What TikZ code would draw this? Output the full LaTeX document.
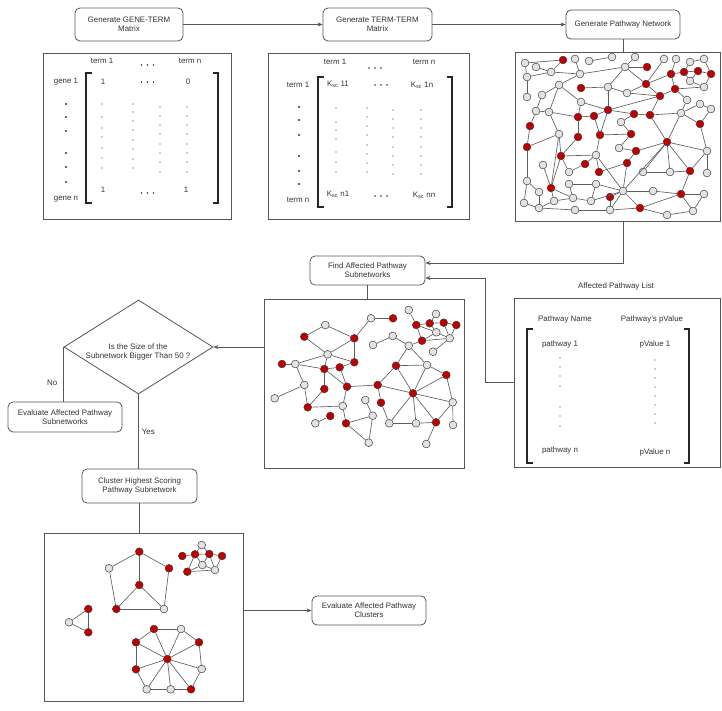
\documentclass[tikz,border=0pt]{standalone}
\usepackage{fontspec}
\setmainfont{Liberation Sans}
\usetikzlibrary{arrows.meta,shapes.geometric}
\definecolor{linec}{HTML}{555555}
\definecolor{textc}{HTML}{333333}
\definecolor{redn}{HTML}{C00000}
\definecolor{greyn}{HTML}{E2E2E2}
\definecolor{edgec}{HTML}{5E5E5E}
\begin{document}
\begin{tikzpicture}[x=1pt,y=-1pt,
  txt/.style={font=\fontsize{7.9}{9.3}\selectfont, text=textc, inner sep=0pt, align=center},
  rbox/.style={draw=linec, line width=0.8pt, rounded corners=5pt, inner sep=0pt, fill=white},
  panel/.style={draw=linec, line width=0.8pt, inner sep=0pt},
  conn/.style={draw=linec, line width=0.8pt},
  arr/.style={conn, -{Stealth[length=5pt,width=4pt]}},
  brk/.style={draw=black!85, line width=1.4pt},
  ndr/.style={circle, draw=black!75, line width=0.5pt, fill=redn, minimum size=7.8pt, inner sep=0pt},
  ndg/.style={circle, draw=black!75, line width=0.5pt, fill=greyn, minimum size=7.8pt, inner sep=0pt},
  edge/.style={draw=edgec, line width=0.65pt},
  dotc/.style={fill=textc}]
\useasboundingbox (0,0) rectangle (722,711);

% ---------- top process boxes ----------
\node[rbox, minimum width=108pt, minimum height=33pt] (gt) at (129,24.5) {};
\node[txt] (gtt) at (129,24.5) {Generate GENE-TERM\\Matrix};
\node[rbox, minimum width=109pt, minimum height=33pt] (tt) at (377.5,24.5) {};
\node[txt] (ttt) at (377.5,24.5) {Generate TERM-TERM\\Matrix};
\node[rbox, minimum width=114pt, minimum height=29pt] (pn) at (623,24.5) {};
\node[txt] (pnt) at (623,24.5) {Generate Pathway Network};

\draw[arr] (gt.east) -- (tt.west);
\draw[arr] (tt.east) -- (pn.west);

% ---------- panels ----------
\node[panel, minimum width=188pt, minimum height=166pt] (m1) at (137,136) {};
\node[panel, minimum width=201pt, minimum height=166pt] (m2) at (368.5,136) {};
\node[panel, minimum width=205.5pt, minimum height=169pt] (net) at (617.75,136.5) {};
\node[panel, minimum width=200pt, minimum height=169pt] (sub) at (364,383.5) {};
\node[panel, minimum width=206.5pt, minimum height=169pt] (list) at (617.25,382.5) {};
\node[panel, minimum width=199pt, minimum height=168pt] (clus) at (143.5,617) {};

% ---------- matrix 1 ----------
\node[txt] (m1c1) at (102,61) {term 1};
\node[txt] (m1cn) at (190,61) {term n};
\node[txt] (m1r1) at (66,82) {gene 1};
\node[txt] (m1rn) at (66,199) {gene n};
\node[txt] (m1a) at (103,82) {1};
\node[txt] (m1b) at (188,82) {0};
\node[txt] (m1c) at (103,190) {1};
\node[txt] (m1d) at (186,190) {1};
\foreach \x in {141.5,147.5,153.5} {
  \fill[dotc] (\x,65) circle (0.9pt);
  \fill[dotc] (\x,82) circle (0.9pt);
  \fill[dotc] (\x,193) circle (0.9pt);
}
\foreach \y in {104,117,131,153,167,182} \fill[dotc] (66,\y) circle (1.05pt);
\foreach \y in {104,117,128,137,148,158,168} \fill[dotc] (102,\y) circle (0.6pt);
\foreach \y in {104,112,121,130,140,149,159,168} \fill[dotc] (133,\y) circle (0.6pt);
\foreach \y in {107,116,125,134,144,153,162,172} {
  \fill[dotc] (160,\y) circle (0.6pt);
  \fill[dotc] (187,\y) circle (0.6pt);
}
\draw[brk] (91.5,73) -- (86,73) -- (86,203) -- (91.5,203);
\draw[brk] (212.5,73) -- (218,73) -- (218,203) -- (212.5,203);

% ---------- matrix 2 ----------
\node[txt] (m2c1) at (335,62) {term 1};
\node[txt] (m2cn) at (424,62) {term n};
\node[txt] (m2r1) at (298,85) {term 1};
\node[txt] (m2rn) at (298,200) {term n};
\node[txt] (m2a) at (338,84) {K\textsubscript{sc} 11};
\node[txt] (m2b) at (422,85) {K\textsubscript{sc} 1n};
\node[txt] (m2c) at (338,194) {K\textsubscript{sc} n1};
\node[txt] (m2d) at (424,195) {K\textsubscript{sc} nn};
\foreach \x in {369,375,381} \fill[dotc] (\x,68) circle (0.9pt);
\foreach \x in {375,381,387} {
  \fill[dotc] (\x,85) circle (0.9pt);
  \fill[dotc] (\x,196) circle (0.9pt);
}
\foreach \y in {107,120,135,156,171,184} \fill[dotc] (299,\y) circle (1.05pt);
\foreach \y in {108,122,130,139,152,162,172} \fill[dotc] (336,\y) circle (0.6pt);
\foreach \y in {108,117,126,135,145,154,163,172} \fill[dotc] (367,\y) circle (0.6pt);
\foreach \y in {110,119,128,137,147,156,165,174} {
  \fill[dotc] (393,\y) circle (0.6pt);
  \fill[dotc] (421,\y) circle (0.6pt);
}
\draw[brk] (323.5,77) -- (318,77) -- (318,207) -- (323.5,207);
\draw[brk] (446.5,77) -- (452,77) -- (452,207) -- (446.5,207);

% ---------- pathway network ----------
\foreach \n/\x/\y/\c in {
 a1/525/63/g, a2/536/67/g, a3/551/72/g, a4/563/60/r, a5/575/59/g, a6/589/61/g,
 a7/612/57/g, a8/635/57/g, a9/625/67/g, a10/647/67/r, a11/664/59/g, a12/676/59/g,
 a13/690/62/g, a14/704/59/g, a15/671/74/r, a16/684/72/r, a17/698/71/r, a18/711/74/r,
 b1/527/77/g, b2/580/74/g, b3/690/81/g, b4/704/87/g, b5/675/89/r, b6/646/84/r,
 b7/559/85/g, b8/581/88/r, b9/608/87/g, b10/627/93/g, b11/660/96/r, b12/527/97/g,
 b13/542/95/g, b14/581/102/g, b15/687/100/g, b16/700/104/g, b17/711/109/g,
 c1/536/111/g, c2/549/112/g, c3/608/110/r, c4/578/117/r, c5/594/116/r, c6/634/114/r,
 c7/650/115/r, c8/681/113/g, c9/621/122/g, c10/530/126/r, c11/700/124/r,
 d1/559/134/g, d2/578/137/r, d3/600/135/r, d4/631/134/r, d5/667/142/r, d6/527/147/r,
 d7/619/148/g, d8/636/151/r, d9/707/151/g, d10/561/156/r, d11/596/155/g, d12/585/164/r,
 d13/627/163/r, d14/543/165/g,
 e1/569/172/g, e2/599/172/r, e3/643/172/g, e4/670/172/g, e5/690/171/r, e6/707/173/g,
 e7/527/181/g, e8/569/184/g, e9/596/184/g, e10/551/188/r, e11/539/192/g, e12/623/191/g,
 e13/653/191/g, e14/681/194/r, e15/704/194/g, e16/610/197/r,
 f1/524/203/g, f2/554/201/g, f3/573/198/g, f4/591/201/g, f5/539/208/g, f6/575/210/g,
 f7/610/210/g, f8/640/208/r, f9/667/215/g, f10/693/211/g}
 \node[nd\c] (\n) at (\x,\y) {};
\foreach \u/\v in {
 a1/a4, a2/a3, a3/a4, a1/b1, b1/a3, a3/b2, a5/b2, a6/a7, b2/a9, a8/a9, a9/a10,
 a9/b9, a9/b6, a11/b6, a13/a14, a15/a16, a16/a17, a17/a18, a13/a16, a14/a18,
 a12/a15, b3/a17, b3/b4, b4/a18, b3/a16, b5/a15, b5/b4, b5/b15, b6/a15, b6/b11,
 b6/b10, b11/b5, b9/b10, b9/b8, b9/c3, b10/b11, b7/b2, b7/b13, b7/c2, b7/b14,
 b12/b1, b13/c1, c1/c2, c1/c10, b14/c3, b14/c4, c2/c4, c4/c5, c4/d2, c5/c3,
 c3/c6, c3/b11, c3/d3, c6/c7, c7/b11, c7/c8, c8/b16, c8/b15, c8/c11, b16/b17,
 c11/b17, c11/d9, c7/d5, c8/d5, c9/c6, c9/d4, c10/d6, d1/c2, d1/d6, d1/d10,
 d1/e10, d2/d10, d3/c5, d3/d11, d3/d4, d4/d7, d7/d8, d8/d13, d8/d5, d13/e2,
 d13/e12, d11/d10, d11/e2, d12/e1, e1/d10, d12/d11, d5/e3, d5/e4, d5/e5,
 d5/d9, d5/e12, e3/e4, e4/e5, e5/d9, e5/e14, d9/e6, e12/d11, e12/e9, e12/e13,
 e12/f7, e12/f8, e12/f4, e12/e16, e13/e14, e14/f8, e14/e15, e14/f10,
 f8/f9, f9/f10, f10/e15, e7/d6, e7/f1, f1/f5, f5/f2, f5/e11, e11/e7, f5/f6,
 f6/f7, f7/e16, f7/f8, e8/e9, e8/f3, e10/f2, e10/f3, f2/f3, f3/f4, f4/e9,
 e10/d10, d14/e10}
 \draw[edge] (\u) -- (\v);

% ---------- affected pathway subnetworks ----------
\foreach \n/\x/\y/\c in {
 s1/325.3/325/g, s2/304.3/336.7/r, s3/354.3/338.3/r, s4/371/318.3/g, s5/393/318.3/r,
 s6/327.7/354.3/g, s7/354.3/362.3/r, s8/282/364/r, s9/295.3/364/g, s10/324.3/369/r,
 s11/339.7/367.3/r, s12/304.3/385/g, s13/347/386.7/r, s14/324.3/389/r, s15/274.7/398.3/g,
 s16/307.7/407.3/r, s17/342.7/406/g, s18/330.3/416/r, s19/315.3/423.3/g, s20/346/423.3/r,
 s21/365.3/400/g, s22/372.7/415.7/g, s23/368.7/442.7/g, s24/377.7/385/r, s25/381/402.7/r,
 s26/413/393.3/r, s27/396/365.7/r, s28/427/365/g, s29/446.3/375/r, s30/452.7/402.3/g,
 s31/453/425/g, s32/389.3/423.3/g, s33/416/423.3/g, s34/436/422.3/r, s35/426.3/444/g,
 s36/373/345/g, s37/392.7/336/g, s38/408.7/345.7/g, s39/422/340.7/r, s40/408.7/310/g,
 s41/416.3/325/r, s42/429.7/323.3/r, s43/436/314/g, s44/443.7/322.7/r, s45/456.3/325/r,
 s46/436.3/332.3/g, s47/449.7/338.3/g, s48/433/351.7/g}
 \node[nd\c] (\n) at (\x,\y) {};
\foreach \u/\v in {
 s1/s2, s1/s3, s2/s6, s3/s6, s3/s7, s3/s4, s4/s5, s6/s9, s6/s10, s6/s7,
 s8/s9, s9/s10, s9/s12, s10/s13, s10/s14, s11/s13, s7/s11, s10/s11, s12/s15,
 s12/s16, s14/s16, s16/s17, s13/s17, s18/s19, s17/s20, s20/s22, s20/s23,
 s22/s21, s22/s23, s13/s24, s24/s25, s24/s27, s24/s26, s25/s32, s26/s27,
 s26/s28, s26/s29, s26/s30, s26/s32, s26/s33, s26/s34, s27/s28, s27/s38,
 s28/s38, s28/s29, s29/s30, s30/s31, s30/s34, s32/s33, s33/s34, s34/s35,
 s36/s37, s37/s38, s38/s39, s39/s41, s40/s41, s41/s42, s42/s43, s42/s44,
 s44/s45, s41/s46, s42/s46, s46/s47, s45/s47, s39/s47, s39/s46, s47/s48,
 s44/s47}
 \draw[edge] (\u) -- (\v);

% ---------- clusters ----------
\foreach \n/\x/\y/\c in {
 k1/139.3/551.7/r, k2/109/568.3/g, k3/169/568.3/r, k4/139.3/585/r, k5/116.3/609/r,
 k6/164/609/g, t1/88.3/609/r, t2/69/622.3/g, t3/88.3/632.3/r,
 m1/201.7/545/g, m2/182.3/556/r, m3/195/554.3/r, m4/209.3/554/r, m5/222/556/r,
 m6/202.3/565/g, m7/215/570/g, m8/187.3/571.7/r,
 w0/167.3/659/r, w1/154/629/r, w2/181/629/g, w3/199/642.3/r, w4/201.7/669/g,
 w5/191/689.3/r, w6/170.7/689.3/g, w7/146.7/689.3/g, w8/136/669.3/r, w9/136/642.3/r}
 \node[nd\c] (\n) at (\x,\y) {};
\foreach \u/\v in {
 k1/k2, k1/k3, k1/k4, k2/k5, k3/k6, k4/k5, k5/k6, k4/k6,
 t1/t2, t2/t3, t1/t3,
 m1/m3, m1/m4, m2/m3, m3/m4, m4/m5, m3/m6, m4/m6, m6/m7, m5/m7, m8/m6, m8/m7,
 m8/m3, m4/m7,
 w1/w2, w2/w3, w3/w4, w4/w5, w5/w6, w6/w7, w7/w8, w8/w9, w9/w1,
 w0/w1, w0/w2, w0/w3, w0/w4, w0/w5, w0/w6, w0/w7, w0/w8, w0/w9}
 \draw[edge] (\u) -- (\v);

% ---------- affected pathway list ----------
\node[txt] (lt) at (616,286) {Affected Pathway List};
\node[txt] (lh1) at (565,319) {Pathway Name};
\node[txt] (lh2) at (652,319) {Pathway's pValue};
\node[txt] (lp1) at (560,344) {pathway 1};
\node[txt] (lv1) at (655,344) {pValue 1};
\node[txt] (lpn) at (560,450) {pathway n};
\node[txt] (lvn) at (655,452) {pValue n};
\foreach \y in {358,367,376,386,407,416,426} \fill[dotc] (560,\y) circle (0.6pt);
\foreach \y in {360,369,378,387,396,405,414,423} \fill[dotc] (655,\y) circle (0.6pt);
\draw[brk] (532.5,329) -- (527,329) -- (527,463) -- (532.5,463);
\draw[brk] (683.5,329) -- (689,329) -- (689,463) -- (683.5,463);

% ---------- middle / lower process boxes ----------
\node[rbox, minimum width=115pt, minimum height=29pt] (find) at (367.5,270.5) {};
\node[txt] (findt) at (367.5,270.5) {Find Affected Pathway\\Subnetworks};
\node[diamond, draw=linec, line width=0.8pt, minimum width=149pt, minimum height=94pt, inner sep=0pt] (dec) at (138.5,347) {};
\node[txt] (dect) at (138,352) {Is the Size of the\\Subnetwork Bigger Than 50 ?};
\node[rbox, minimum width=114pt, minimum height=30pt] (evs) at (65,417) {};
\node[txt] (evst) at (65,417) {Evaluate Affected Pathway\\Subnetworks};
\node[rbox, minimum width=115pt, minimum height=34pt] (clh) at (139.5,486) {};
\node[txt] (clht) at (139.5,486) {Cluster Highest Scoring\\Pathway Subnetwork};
\node[rbox, minimum width=114pt, minimum height=29pt] (evc) at (369,610.5) {};
\node[txt] (evct) at (369,610.5) {Evaluate Affected Pathway\\Clusters};

% ---------- connectors ----------
\draw[conn] (pn.south) -- (pn.south |- net.north);
\draw[arr] (pn.south |- net.south) |- ([yshift=7.5pt]find.east);
\coordinate (bend) at (485,382.5);
\draw[arr] (list.west) -- (bend) |- ([yshift=-7.5pt]find.east);
\draw[conn] (find.south) -- (find.south |- sub.north);
\draw[arr] (dec.east -| sub.west) -- (dec.east);
\draw[conn] (dec.west) -- node[txt, left=6pt, pos=0.65] (nolab) {No} (dec.west |- evs.north);
\draw[conn] (dec.south) -- node[txt, right=3pt, pos=0.5] (yeslab) {Yes} (dec.south |- clh.north);
\draw[conn] (clh.south) -- (clh.south |- clus.north);
\draw[arr] (evc.west -| clus.east) -- (evc.west);
\end{tikzpicture}
\end{document}
